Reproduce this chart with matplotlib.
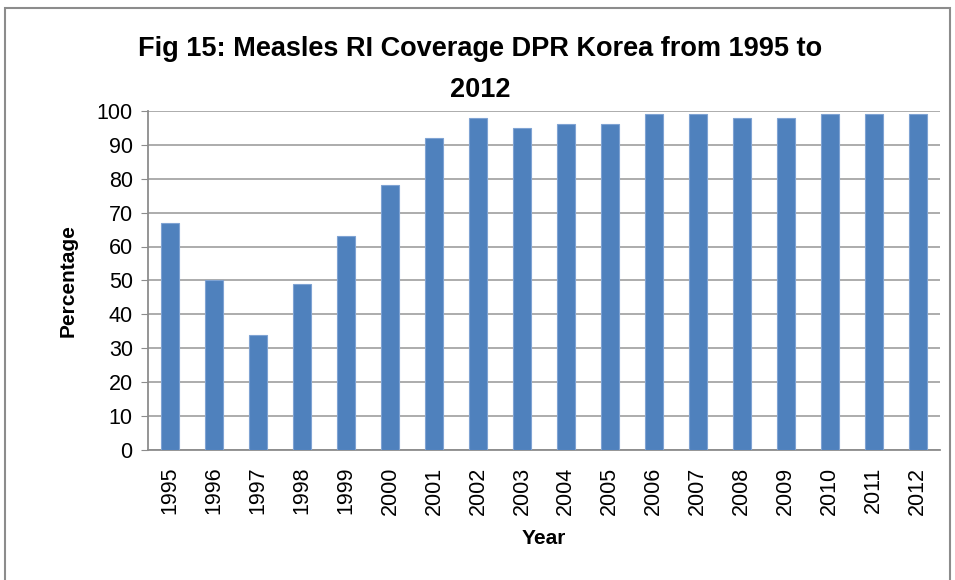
import matplotlib.pyplot as plt
from matplotlib.patches import Rectangle

years = ["1995", "1996", "1997", "1998", "1999", "2000", "2001", "2002", "2003",
         "2004", "2005", "2006", "2007", "2008", "2009", "2010", "2011", "2012"]
coverage = [67, 50, 34, 49, 63, 78, 92, 98, 95, 96, 96, 99, 99, 98, 98, 99, 99, 99]
y_ticks = [0, 10, 20, 30, 40, 50, 60, 70, 80, 90, 100]

plt.rcParams['font.family'] = ['Liberation Sans', 'DejaVu Sans']

fig = plt.figure(figsize=(9.55, 5.8), dpi=100)
ax = fig.add_axes([0.155, 0.224, 0.829, 0.585])

# outer chart border
fig.patches.append(Rectangle((0.005, -0.05), 0.99, 1.036, transform=fig.transFigure,
                             fill=False, edgecolor='#8c8c8c', linewidth=1.5))

x = range(len(years))
ax.bar(x, coverage, width=0.4, color='#4F81BD', edgecolor='#7FA3D3', linewidth=0.8, zorder=3)

ax.set_xlim(-0.5, len(years) - 0.5)
ax.set_ylim(0, 100)
ax.set_yticks(y_ticks)
ax.set_xticks(list(x))
ax.set_xticklabels(years, rotation=90, fontsize=15.5)
ax.tick_params(axis='y', labelsize=15.5, length=5, color='#8c8c8c', pad=6)
ax.tick_params(axis='x', length=0, pad=12)

ax.grid(axis='y', color='#a6a6a6', linewidth=1.3, zorder=0)
for s in ['top', 'right']:
    ax.spines[s].set_visible(False)
for s in ['left', 'bottom']:
    ax.spines[s].set_color('#8c8c8c')
    ax.spines[s].set_linewidth(1.3)

ax.set_ylabel('Percentage', fontsize=15, fontweight='bold', labelpad=14)
ax.set_xlabel('Year', fontsize=15, fontweight='bold', labelpad=10)

fig.text(0.503, 0.915, 'Fig 15: Measles RI Coverage DPR Korea from 1995 to',
         ha='center', va='center', fontsize=19.5, fontweight='bold')
fig.text(0.503, 0.845, '2012', ha='center', va='center', fontsize=19.5, fontweight='bold')

fig.savefig('out.png', dpi=100)
